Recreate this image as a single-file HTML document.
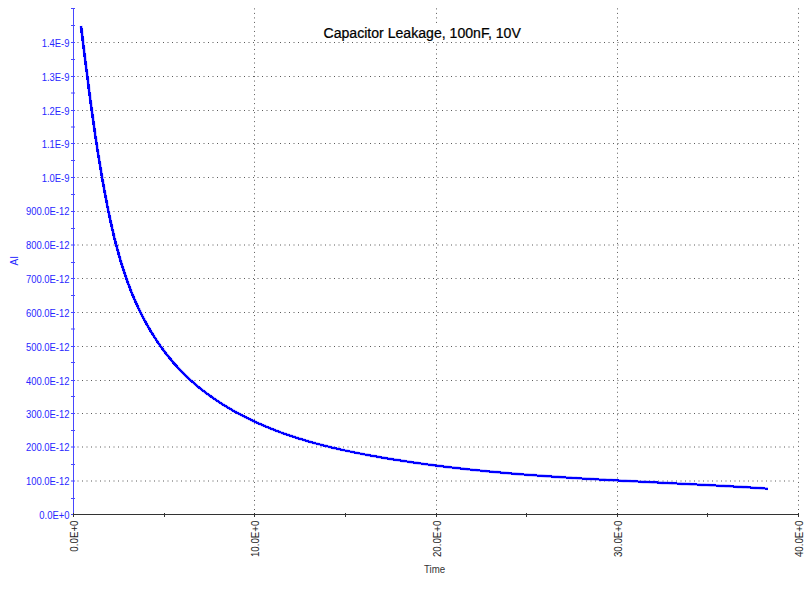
<!DOCTYPE html><html><head><meta charset="utf-8"><title>Capacitor Leakage, 100nF, 10V</title><style>html,body{margin:0;padding:0;background:#fff;width:810px;height:592px;overflow:hidden}svg{display:block}text{font-family:"Liberation Sans",sans-serif}</style></head><body>
<svg width="810" height="592" viewBox="0 0 810 592">
<rect width="810" height="592" fill="#fff"/>
<path d="M77.5 481.0H796 M77.5 447.0H796 M77.5 413.5H796 M77.5 380.5H796 M77.5 346.5H796 M77.5 312.5H796 M77.5 278.5H796 M77.5 245.0H796 M77.5 211.5H796 M77.5 177.5H796 M77.5 143.5H796 M77.5 110.5H796 M77.5 76.5H796 M77.5 42.5H796" stroke="#5a5a5a" stroke-width="1" stroke-dasharray="1 3.5" fill="none"/>
<path d="M254.5 510.0V8 M436.5 510.0V8 M617.5 510.0V8 M798.5 510.0V8" stroke="#5a5a5a" stroke-width="1" stroke-dasharray="1 3.51" fill="none"/>
<path d="M71 481.0H75 M71 447.0H75 M71 413.5H75 M71 380.5H75 M71 346.5H75 M71 312.5H75 M71 278.5H75 M71 245.0H75 M71 211.5H75 M71 177.5H75 M71 143.5H75 M71 110.5H75 M71 76.5H75 M71 42.5H75 M71 498.5H75 M71 464.5H75 M71 430.5H75 M71 396.5H75 M71 362.5H75 M71 329.0H75 M71 295.5H75 M71 262.5H75 M71 228.5H75 M71 194.5H75 M71 160.5H75 M71 127.0H75 M71 93.0H75 M71 59.5H75 M71 25.5H75 M71 8.5H75 M71 514.5H73" stroke="#4848ff" stroke-width="1"/>
<path d="M73.5 8V514" stroke="#4848ff" stroke-width="1" shape-rendering="crispEdges"/>
<path d="M73 514.5H799" stroke="#333333" stroke-width="1" shape-rendering="crispEdges"/>
<path d="M73.5 513V517 M164.5 513V517 M254.5 513V517 M345.5 513V517 M436.5 513V517 M526.5 513V517 M617.5 513V517 M707.5 513V517 M798.5 513V517" stroke="#333333" stroke-width="1" shape-rendering="crispEdges"/>
<text transform="translate(69.5 519.2) scale(0.9 1)" font-size="10.5" fill="#2828ff" text-anchor="end">0.0E+0</text>
<text transform="translate(69.5 485.2) scale(0.9 1)" font-size="10.5" fill="#2828ff" text-anchor="end">100.0E-12</text>
<text transform="translate(69.5 451.2) scale(0.9 1)" font-size="10.5" fill="#2828ff" text-anchor="end">200.0E-12</text>
<text transform="translate(69.5 418.2) scale(0.9 1)" font-size="10.5" fill="#2828ff" text-anchor="end">300.0E-12</text>
<text transform="translate(69.5 385.2) scale(0.9 1)" font-size="10.5" fill="#2828ff" text-anchor="end">400.0E-12</text>
<text transform="translate(69.5 351.2) scale(0.9 1)" font-size="10.5" fill="#2828ff" text-anchor="end">500.0E-12</text>
<text transform="translate(69.5 317.2) scale(0.9 1)" font-size="10.5" fill="#2828ff" text-anchor="end">600.0E-12</text>
<text transform="translate(69.5 283.2) scale(0.9 1)" font-size="10.5" fill="#2828ff" text-anchor="end">700.0E-12</text>
<text transform="translate(69.5 249.2) scale(0.9 1)" font-size="10.5" fill="#2828ff" text-anchor="end">800.0E-12</text>
<text transform="translate(69.5 215.2) scale(0.9 1)" font-size="10.5" fill="#2828ff" text-anchor="end">900.0E-12</text>
<text transform="translate(69.5 182.2) scale(0.9 1)" font-size="10.5" fill="#2828ff" text-anchor="end">1.0E-9</text>
<text transform="translate(69.5 148.2) scale(0.9 1)" font-size="10.5" fill="#2828ff" text-anchor="end">1.1E-9</text>
<text transform="translate(69.5 115.2) scale(0.9 1)" font-size="10.5" fill="#2828ff" text-anchor="end">1.2E-9</text>
<text transform="translate(69.5 81.2) scale(0.9 1)" font-size="10.5" fill="#2828ff" text-anchor="end">1.3E-9</text>
<text transform="translate(69.5 47.2) scale(0.9 1)" font-size="10.5" fill="#2828ff" text-anchor="end">1.4E-9</text>
<text transform="translate(77.5 520.5) rotate(-90) scale(0.93 1)" font-size="10.5" fill="#222" text-anchor="end">0.0E+0</text>
<text transform="translate(258.5 520.5) rotate(-90) scale(0.93 1)" font-size="10.5" fill="#222" text-anchor="end">10.0E+0</text>
<text transform="translate(440.5 520.5) rotate(-90) scale(0.93 1)" font-size="10.5" fill="#222" text-anchor="end">20.0E+0</text>
<text transform="translate(621.5 520.5) rotate(-90) scale(0.93 1)" font-size="10.5" fill="#222" text-anchor="end">30.0E+0</text>
<text transform="translate(802.5 520.5) rotate(-90) scale(0.93 1)" font-size="10.5" fill="#222" text-anchor="end">40.0E+0</text>
<text transform="translate(17.6 265.6) rotate(-90) scale(0.92 1)" font-size="11" fill="#2828ff">AI</text>
<text transform="translate(424 573) scale(0.88 1)" font-size="11" fill="#333">Time</text>
<rect x="322" y="24" width="201" height="17.5" fill="#fff"/>
<text transform="translate(323.5 38) scale(0.91 1)" font-size="15.5" fill="#000" stroke="#000" stroke-width="0.25">Capacitor Leakage, 100nF, 10V</text>
<path d="M80.7 25.9 L81.0 28.3 L81.3 30.8 L81.6 33.2 L81.9 35.7 L82.2 38.1 L82.5 40.6 L82.8 43.0 L83.1 45.4 L83.4 47.9 L83.7 50.3 L84.0 52.7 L84.3 55.2 L84.6 57.6 L84.9 60.0 L85.2 62.5 L85.5 64.9 L85.8 67.3 L86.1 69.7 L86.5 72.2 L86.8 74.6 L87.1 77.0 L87.4 79.4 L87.7 81.9 L88.0 84.3 L88.3 86.7 L88.6 89.1 L88.9 91.5 L89.3 94.0 L89.6 96.4 L89.9 98.8 L90.2 101.2 L90.5 103.6 L90.9 106.0 L91.2 108.4 L91.5 110.9 L91.9 113.3 L92.2 115.7 L92.5 118.1 L92.9 120.5 L93.2 122.9 L93.5 125.3 L93.9 127.7 L94.2 130.1 L94.6 132.5 L94.9 135.0 L95.3 137.4 L95.7 139.8 L96.0 142.2 L96.4 144.6 L96.8 147.0 L97.1 149.4 L97.5 151.8 L97.9 154.2 L98.3 156.6 L98.7 159.0 L99.1 161.4 L99.5 163.8 L99.9 166.2 L100.3 168.6 L100.7 171.1 L101.1 173.5 L101.5 175.9 L101.9 178.3 L102.3 180.7 L102.8 183.1 L103.2 185.5 L103.6 187.9 L104.1 190.3 L104.5 192.7 L105.0 195.1 L105.4 197.5 L105.9 199.9 L106.4 202.3 L106.8 204.8 L107.3 207.2 L107.8 209.6 L108.3 212.0 L108.8 214.4 L109.3 216.8 L109.8 219.2 L110.3 221.6 L110.9 224.0 L111.4 226.4 L111.9 228.8 L112.5 231.2 L113.1 233.6 L113.6 236.0 L114.2 238.4 L114.8 240.7 L115.4 243.1 L116.0 245.5 L116.7 247.9 L117.3 250.2 L118.0 252.6 L118.6 255.0 L119.3 257.3 L120.0 259.7 L120.7 262.0 L121.4 264.4 L122.1 266.7 L122.9 269.0 L123.6 271.4 L124.4 273.7 L125.2 276.0 L126.0 278.3 L126.8 280.6 L127.6 282.9 L128.5 285.2 L129.4 287.5 L130.2 289.7 L131.1 292.0 L132.0 294.3 L133.0 296.5 L133.9 298.8 L134.9 301.0 L135.9 303.2 L136.9 305.4 L137.9 307.6 L139.0 309.8 L140.0 312.0 L141.1 314.2 L142.2 316.4 L143.4 318.6 L144.5 320.7 L145.7 322.8 L146.8 325.0 L148.1 327.1 L149.3 329.2 L150.5 331.3 L151.8 333.4 L153.1 335.4 L154.4 337.5 L155.7 339.5 L157.1 341.6 L158.5 343.6 L159.8 345.6 L161.3 347.6 L162.7 349.5 L164.1 351.5 L165.6 353.4 L167.1 355.3 L168.6 357.2 L170.2 359.1 L171.7 361.0 L173.3 362.9 L174.9 364.7 L176.6 366.5 L178.2 368.3 L179.9 370.1 L181.6 371.8 L183.3 373.5 L185.0 375.3 L186.8 377.0 L188.5 378.6 L190.3 380.3 L192.2 381.9 L194.0 383.5 L195.9 385.1 L197.7 386.7 L199.6 388.2 L201.6 389.7 L203.5 391.2 L205.4 392.7 L207.4 394.2 L209.4 395.6 L211.4 397.0 L213.4 398.4 L215.4 399.8 L217.4 401.2 L219.5 402.5 L221.5 403.8 L223.6 405.1 L225.7 406.4 L227.8 407.6 L229.9 408.9 L232.0 410.1 L234.1 411.3 L236.2 412.5 L238.4 413.6 L240.5 414.8 L242.7 415.9 L244.8 417.0 L247.0 418.1 L249.2 419.1 L251.4 420.2 L253.5 421.2 L255.7 422.2 L258.0 423.2 L260.2 424.2 L262.4 425.2 L264.6 426.1 L266.9 427.1 L269.1 428.0 L271.4 428.9 L273.6 429.8 L275.9 430.7 L278.2 431.5 L280.5 432.4 L282.7 433.2 L285.0 434.0 L287.3 434.8 L289.6 435.6 L291.9 436.3 L294.3 437.1 L296.6 437.9 L298.9 438.6 L301.2 439.3 L303.6 440.0 L305.9 440.7 L308.3 441.4 L310.6 442.1 L313.0 442.7 L315.3 443.4 L317.7 444.0 L320.1 444.6 L322.4 445.2 L324.8 445.8 L327.2 446.4 L329.6 447.0 L332.0 447.6 L334.3 448.1 L336.7 448.7 L339.1 449.2 L341.5 449.8 L343.9 450.3 L346.3 450.8 L348.7 451.3 L351.1 451.8 L353.5 452.3 L356.0 452.8 L358.4 453.3 L360.8 453.7 L363.2 454.2 L365.6 454.7 L368.0 455.1 L370.5 455.6 L372.9 456.0 L375.3 456.4 L377.7 456.8 L380.1 457.3 L382.6 457.7 L385.0 458.1 L387.4 458.5 L389.8 458.9 L392.3 459.3 L394.7 459.7 L397.1 460.0 L399.5 460.4 L401.9 460.8 L404.4 461.2 L406.8 461.5 L409.2 461.9 L411.6 462.3 L414.1 462.6 L416.5 462.9 L418.9 463.3 L421.3 463.6 L423.8 464.0 L426.2 464.3 L428.6 464.6 L431.0 464.9 L433.5 465.3 L435.9 465.6 L438.3 465.9 L440.7 466.2 L443.2 466.5 L445.6 466.8 L448.0 467.1 L450.4 467.4 L452.9 467.6 L455.3 467.9 L457.7 468.2 L460.1 468.5 L462.6 468.7 L465.0 469.0 L467.4 469.3 L469.8 469.5 L472.3 469.8 L474.7 470.0 L477.1 470.3 L479.5 470.5 L482.0 470.8 L484.4 471.0 L486.8 471.3 L489.2 471.5 L491.7 471.7 L494.1 472.0 L496.5 472.2 L499.0 472.4 L501.4 472.6 L503.8 472.8 L506.2 473.0 L508.7 473.3 L511.1 473.5 L513.5 473.7 L516.0 473.9 L518.4 474.1 L520.8 474.3 L523.2 474.5 L525.7 474.6 L528.1 474.8 L530.5 475.0 L533.0 475.2 L535.4 475.4 L537.8 475.6 L540.3 475.7 L542.7 475.9 L545.1 476.1 L547.6 476.3 L550.0 476.4 L552.4 476.6 L554.9 476.8 L557.3 476.9 L559.7 477.1 L562.1 477.3 L564.6 477.4 L567.0 477.6 L569.4 477.7 L571.9 477.9 L574.3 478.0 L576.7 478.2 L579.2 478.3 L581.6 478.5 L584.1 478.6 L586.5 478.8 L588.9 478.9 L591.4 479.0 L593.8 479.2 L596.2 479.3 L598.7 479.5 L601.1 479.6 L603.5 479.7 L606.0 479.9 L608.4 480.0 L610.8 480.1 L613.3 480.3 L615.7 480.4 L618.2 480.5 L620.6 480.7 L623.0 480.8 L625.5 480.9 L627.9 481.0 L630.4 481.2 L632.8 481.3 L635.2 481.4 L637.7 481.5 L640.1 481.7 L642.6 481.8 L645.0 481.9 L647.4 482.0 L649.9 482.2 L652.3 482.3 L654.8 482.4 L657.2 482.5 L659.6 482.6 L662.1 482.8 L664.5 482.9 L667.0 483.0 L669.4 483.1 L671.9 483.3 L674.3 483.4 L676.7 483.5 L679.2 483.6 L681.6 483.8 L684.1 483.9 L686.5 484.0 L689.0 484.1 L691.4 484.3 L693.9 484.4 L696.3 484.5 L698.7 484.6 L701.2 484.8 L703.6 484.9 L706.1 485.0 L708.5 485.1 L711.0 485.3 L713.4 485.4 L715.9 485.5 L718.3 485.7 L720.8 485.8 L723.2 485.9 L725.7 486.1 L728.1 486.2 L730.6 486.4 L733.0 486.5 L735.5 486.6 L737.9 486.8 L740.4 486.9 L742.8 487.1 L745.3 487.2 L747.7 487.4 L750.2 487.5 L752.6 487.7 L755.1 487.8 L757.6 488.0 L760.0 488.1 L762.5 488.3 L764.9 488.5 L767.4 488.6" stroke="#0000ff" stroke-width="3.2" stroke-opacity="0.3" transform="translate(0.4 0)" fill="none" stroke-linejoin="round"/>
<path d="M80.7 25.9 L81.0 28.3 L81.3 30.8 L81.6 33.2 L81.9 35.7 L82.2 38.1 L82.5 40.6 L82.8 43.0 L83.1 45.4 L83.4 47.9 L83.7 50.3 L84.0 52.7 L84.3 55.2 L84.6 57.6 L84.9 60.0 L85.2 62.5 L85.5 64.9 L85.8 67.3 L86.1 69.7 L86.5 72.2 L86.8 74.6 L87.1 77.0 L87.4 79.4 L87.7 81.9 L88.0 84.3 L88.3 86.7 L88.6 89.1 L88.9 91.5 L89.3 94.0 L89.6 96.4 L89.9 98.8 L90.2 101.2 L90.5 103.6 L90.9 106.0 L91.2 108.4 L91.5 110.9 L91.9 113.3 L92.2 115.7 L92.5 118.1 L92.9 120.5 L93.2 122.9 L93.5 125.3 L93.9 127.7 L94.2 130.1 L94.6 132.5 L94.9 135.0 L95.3 137.4 L95.7 139.8 L96.0 142.2 L96.4 144.6 L96.8 147.0 L97.1 149.4 L97.5 151.8 L97.9 154.2 L98.3 156.6 L98.7 159.0 L99.1 161.4 L99.5 163.8 L99.9 166.2 L100.3 168.6 L100.7 171.1 L101.1 173.5 L101.5 175.9 L101.9 178.3 L102.3 180.7 L102.8 183.1 L103.2 185.5 L103.6 187.9 L104.1 190.3 L104.5 192.7 L105.0 195.1 L105.4 197.5 L105.9 199.9 L106.4 202.3 L106.8 204.8 L107.3 207.2 L107.8 209.6 L108.3 212.0 L108.8 214.4 L109.3 216.8 L109.8 219.2 L110.3 221.6 L110.9 224.0 L111.4 226.4 L111.9 228.8 L112.5 231.2 L113.1 233.6 L113.6 236.0 L114.2 238.4 L114.8 240.7 L115.4 243.1 L116.0 245.5 L116.7 247.9 L117.3 250.2 L118.0 252.6 L118.6 255.0 L119.3 257.3 L120.0 259.7 L120.7 262.0 L121.4 264.4 L122.1 266.7 L122.9 269.0 L123.6 271.4 L124.4 273.7 L125.2 276.0 L126.0 278.3 L126.8 280.6 L127.6 282.9 L128.5 285.2 L129.4 287.5 L130.2 289.7 L131.1 292.0 L132.0 294.3 L133.0 296.5 L133.9 298.8 L134.9 301.0 L135.9 303.2 L136.9 305.4 L137.9 307.6 L139.0 309.8 L140.0 312.0 L141.1 314.2 L142.2 316.4 L143.4 318.6 L144.5 320.7 L145.7 322.8 L146.8 325.0 L148.1 327.1 L149.3 329.2 L150.5 331.3 L151.8 333.4 L153.1 335.4 L154.4 337.5 L155.7 339.5 L157.1 341.6 L158.5 343.6 L159.8 345.6 L161.3 347.6 L162.7 349.5 L164.1 351.5 L165.6 353.4 L167.1 355.3 L168.6 357.2 L170.2 359.1 L171.7 361.0 L173.3 362.9 L174.9 364.7 L176.6 366.5 L178.2 368.3 L179.9 370.1 L181.6 371.8 L183.3 373.5 L185.0 375.3 L186.8 377.0 L188.5 378.6 L190.3 380.3 L192.2 381.9 L194.0 383.5 L195.9 385.1 L197.7 386.7 L199.6 388.2 L201.6 389.7 L203.5 391.2 L205.4 392.7 L207.4 394.2 L209.4 395.6 L211.4 397.0 L213.4 398.4 L215.4 399.8 L217.4 401.2 L219.5 402.5 L221.5 403.8 L223.6 405.1 L225.7 406.4 L227.8 407.6 L229.9 408.9 L232.0 410.1 L234.1 411.3 L236.2 412.5 L238.4 413.6 L240.5 414.8 L242.7 415.9 L244.8 417.0 L247.0 418.1 L249.2 419.1 L251.4 420.2 L253.5 421.2 L255.7 422.2 L258.0 423.2 L260.2 424.2 L262.4 425.2 L264.6 426.1 L266.9 427.1 L269.1 428.0 L271.4 428.9 L273.6 429.8 L275.9 430.7 L278.2 431.5 L280.5 432.4 L282.7 433.2 L285.0 434.0 L287.3 434.8 L289.6 435.6 L291.9 436.3 L294.3 437.1 L296.6 437.9 L298.9 438.6 L301.2 439.3 L303.6 440.0 L305.9 440.7 L308.3 441.4 L310.6 442.1 L313.0 442.7 L315.3 443.4 L317.7 444.0 L320.1 444.6 L322.4 445.2 L324.8 445.8 L327.2 446.4 L329.6 447.0 L332.0 447.6 L334.3 448.1 L336.7 448.7 L339.1 449.2 L341.5 449.8 L343.9 450.3 L346.3 450.8 L348.7 451.3 L351.1 451.8 L353.5 452.3 L356.0 452.8 L358.4 453.3 L360.8 453.7 L363.2 454.2 L365.6 454.7 L368.0 455.1 L370.5 455.6 L372.9 456.0 L375.3 456.4 L377.7 456.8 L380.1 457.3 L382.6 457.7 L385.0 458.1 L387.4 458.5 L389.8 458.9 L392.3 459.3 L394.7 459.7 L397.1 460.0 L399.5 460.4 L401.9 460.8 L404.4 461.2 L406.8 461.5 L409.2 461.9 L411.6 462.3 L414.1 462.6 L416.5 462.9 L418.9 463.3 L421.3 463.6 L423.8 464.0 L426.2 464.3 L428.6 464.6 L431.0 464.9 L433.5 465.3 L435.9 465.6 L438.3 465.9 L440.7 466.2 L443.2 466.5 L445.6 466.8 L448.0 467.1 L450.4 467.4 L452.9 467.6 L455.3 467.9 L457.7 468.2 L460.1 468.5 L462.6 468.7 L465.0 469.0 L467.4 469.3 L469.8 469.5 L472.3 469.8 L474.7 470.0 L477.1 470.3 L479.5 470.5 L482.0 470.8 L484.4 471.0 L486.8 471.3 L489.2 471.5 L491.7 471.7 L494.1 472.0 L496.5 472.2 L499.0 472.4 L501.4 472.6 L503.8 472.8 L506.2 473.0 L508.7 473.3 L511.1 473.5 L513.5 473.7 L516.0 473.9 L518.4 474.1 L520.8 474.3 L523.2 474.5 L525.7 474.6 L528.1 474.8 L530.5 475.0 L533.0 475.2 L535.4 475.4 L537.8 475.6 L540.3 475.7 L542.7 475.9 L545.1 476.1 L547.6 476.3 L550.0 476.4 L552.4 476.6 L554.9 476.8 L557.3 476.9 L559.7 477.1 L562.1 477.3 L564.6 477.4 L567.0 477.6 L569.4 477.7 L571.9 477.9 L574.3 478.0 L576.7 478.2 L579.2 478.3 L581.6 478.5 L584.1 478.6 L586.5 478.8 L588.9 478.9 L591.4 479.0 L593.8 479.2 L596.2 479.3 L598.7 479.5 L601.1 479.6 L603.5 479.7 L606.0 479.9 L608.4 480.0 L610.8 480.1 L613.3 480.3 L615.7 480.4 L618.2 480.5 L620.6 480.7 L623.0 480.8 L625.5 480.9 L627.9 481.0 L630.4 481.2 L632.8 481.3 L635.2 481.4 L637.7 481.5 L640.1 481.7 L642.6 481.8 L645.0 481.9 L647.4 482.0 L649.9 482.2 L652.3 482.3 L654.8 482.4 L657.2 482.5 L659.6 482.6 L662.1 482.8 L664.5 482.9 L667.0 483.0 L669.4 483.1 L671.9 483.3 L674.3 483.4 L676.7 483.5 L679.2 483.6 L681.6 483.8 L684.1 483.9 L686.5 484.0 L689.0 484.1 L691.4 484.3 L693.9 484.4 L696.3 484.5 L698.7 484.6 L701.2 484.8 L703.6 484.9 L706.1 485.0 L708.5 485.1 L711.0 485.3 L713.4 485.4 L715.9 485.5 L718.3 485.7 L720.8 485.8 L723.2 485.9 L725.7 486.1 L728.1 486.2 L730.6 486.4 L733.0 486.5 L735.5 486.6 L737.9 486.8 L740.4 486.9 L742.8 487.1 L745.3 487.2 L747.7 487.4 L750.2 487.5 L752.6 487.7 L755.1 487.8 L757.6 488.0 L760.0 488.1 L762.5 488.3 L764.9 488.5 L767.4 488.6" stroke="#0000ff" stroke-width="2" fill="none" stroke-linejoin="round" shape-rendering="crispEdges"/>
<path d="M80.7 25.9 L81.0 28.3 L81.3 30.8 L81.6 33.2 L81.9 35.7 L82.2 38.1 L82.5 40.6 L82.8 43.0 L83.1 45.4 L83.4 47.9 L83.7 50.3 L84.0 52.7 L84.3 55.2 L84.6 57.6 L84.9 60.0 L85.2 62.5 L85.5 64.9 L85.8 67.3 L86.1 69.7 L86.5 72.2 L86.8 74.6 L87.1 77.0 L87.4 79.4 L87.7 81.9 L88.0 84.3 L88.3 86.7 L88.6 89.1 L88.9 91.5 L89.3 94.0 L89.6 96.4 L89.9 98.8 L90.2 101.2 L90.5 103.6 L90.9 106.0 L91.2 108.4 L91.5 110.9 L91.9 113.3 L92.2 115.7 L92.5 118.1 L92.9 120.5 L93.2 122.9 L93.5 125.3 L93.9 127.7 L94.2 130.1 L94.6 132.5 L94.9 135.0 L95.3 137.4 L95.7 139.8 L96.0 142.2 L96.4 144.6 L96.8 147.0 L97.1 149.4 L97.5 151.8 L97.9 154.2 L98.3 156.6 L98.7 159.0 L99.1 161.4 L99.5 163.8 L99.9 166.2 L100.3 168.6 L100.7 171.1 L101.1 173.5 L101.5 175.9 L101.9 178.3 L102.3 180.7 L102.8 183.1 L103.2 185.5 L103.6 187.9 L104.1 190.3 L104.5 192.7 L105.0 195.1 L105.4 197.5 L105.9 199.9 L106.4 202.3 L106.8 204.8 L107.3 207.2 L107.8 209.6 L108.3 212.0 L108.8 214.4 L109.3 216.8 L109.8 219.2 L110.3 221.6 L110.9 224.0 L111.4 226.4 L111.9 228.8 L112.5 231.2 L113.1 233.6 L113.6 236.0 L114.2 238.4 L114.8 240.7 L115.4 243.1 L116.0 245.5 L116.7 247.9 L117.3 250.2 L118.0 252.6 L118.6 255.0 L119.3 257.3 L120.0 259.7 L120.7 262.0 L121.4 264.4 L122.1 266.7 L122.9 269.0 L123.6 271.4 L124.4 273.7 L125.2 276.0 L126.0 278.3 L126.8 280.6 L127.6 282.9 L128.5 285.2 L129.4 287.5 L130.2 289.7 L131.1 292.0 L132.0 294.3 L133.0 296.5 L133.9 298.8 L134.9 301.0 L135.9 303.2 L136.9 305.4 L137.9 307.6 L139.0 309.8 L140.0 312.0 L141.1 314.2 L142.2 316.4 L143.4 318.6 L144.5 320.7 L145.7 322.8 L146.8 325.0 L148.1 327.1 L149.3 329.2 L150.5 331.3 L151.8 333.4 L153.1 335.4 L154.4 337.5 L155.7 339.5 L157.1 341.6 L158.5 343.6 L159.8 345.6 L161.3 347.6 L162.7 349.5 L164.1 351.5 L165.6 353.4 L167.1 355.3 L168.6 357.2 L170.2 359.1 L171.7 361.0 L173.3 362.9 L174.9 364.7 L176.6 366.5 L178.2 368.3 L179.9 370.1 L181.6 371.8 L183.3 373.5 L185.0 375.3 L186.8 377.0 L188.5 378.6 L190.3 380.3 L192.2 381.9 L194.0 383.5 L195.9 385.1 L197.7 386.7 L199.6 388.2 L201.6 389.7 L203.5 391.2 L205.4 392.7 L207.4 394.2 L209.4 395.6 L211.4 397.0 L213.4 398.4 L215.4 399.8 L217.4 401.2 L219.5 402.5 L221.5 403.8 L223.6 405.1 L225.7 406.4 L227.8 407.6 L229.9 408.9 L232.0 410.1 L234.1 411.3 L236.2 412.5 L238.4 413.6 L240.5 414.8 L242.7 415.9 L244.8 417.0 L247.0 418.1 L249.2 419.1 L251.4 420.2 L253.5 421.2 L255.7 422.2 L258.0 423.2 L260.2 424.2 L262.4 425.2 L264.6 426.1 L266.9 427.1 L269.1 428.0 L271.4 428.9 L273.6 429.8 L275.9 430.7 L278.2 431.5 L280.5 432.4 L282.7 433.2 L285.0 434.0 L287.3 434.8 L289.6 435.6 L291.9 436.3 L294.3 437.1 L296.6 437.9 L298.9 438.6 L301.2 439.3 L303.6 440.0 L305.9 440.7 L308.3 441.4 L310.6 442.1 L313.0 442.7 L315.3 443.4 L317.7 444.0 L320.1 444.6 L322.4 445.2 L324.8 445.8 L327.2 446.4 L329.6 447.0 L332.0 447.6 L334.3 448.1 L336.7 448.7 L339.1 449.2 L341.5 449.8 L343.9 450.3 L346.3 450.8 L348.7 451.3 L351.1 451.8 L353.5 452.3 L356.0 452.8 L358.4 453.3 L360.8 453.7 L363.2 454.2 L365.6 454.7 L368.0 455.1 L370.5 455.6 L372.9 456.0 L375.3 456.4 L377.7 456.8 L380.1 457.3 L382.6 457.7 L385.0 458.1 L387.4 458.5 L389.8 458.9 L392.3 459.3 L394.7 459.7 L397.1 460.0 L399.5 460.4 L401.9 460.8 L404.4 461.2 L406.8 461.5 L409.2 461.9 L411.6 462.3 L414.1 462.6 L416.5 462.9 L418.9 463.3 L421.3 463.6 L423.8 464.0 L426.2 464.3 L428.6 464.6 L431.0 464.9 L433.5 465.3 L435.9 465.6 L438.3 465.9 L440.7 466.2 L443.2 466.5 L445.6 466.8 L448.0 467.1 L450.4 467.4 L452.9 467.6 L455.3 467.9 L457.7 468.2 L460.1 468.5 L462.6 468.7 L465.0 469.0 L467.4 469.3 L469.8 469.5 L472.3 469.8 L474.7 470.0 L477.1 470.3 L479.5 470.5 L482.0 470.8 L484.4 471.0 L486.8 471.3 L489.2 471.5 L491.7 471.7 L494.1 472.0 L496.5 472.2 L499.0 472.4 L501.4 472.6 L503.8 472.8 L506.2 473.0 L508.7 473.3 L511.1 473.5 L513.5 473.7 L516.0 473.9 L518.4 474.1 L520.8 474.3 L523.2 474.5 L525.7 474.6 L528.1 474.8 L530.5 475.0 L533.0 475.2 L535.4 475.4 L537.8 475.6 L540.3 475.7 L542.7 475.9 L545.1 476.1 L547.6 476.3 L550.0 476.4 L552.4 476.6 L554.9 476.8 L557.3 476.9 L559.7 477.1 L562.1 477.3 L564.6 477.4 L567.0 477.6 L569.4 477.7 L571.9 477.9 L574.3 478.0 L576.7 478.2 L579.2 478.3 L581.6 478.5 L584.1 478.6 L586.5 478.8 L588.9 478.9 L591.4 479.0 L593.8 479.2 L596.2 479.3 L598.7 479.5 L601.1 479.6 L603.5 479.7 L606.0 479.9 L608.4 480.0 L610.8 480.1 L613.3 480.3 L615.7 480.4 L618.2 480.5 L620.6 480.7 L623.0 480.8 L625.5 480.9 L627.9 481.0 L630.4 481.2 L632.8 481.3 L635.2 481.4 L637.7 481.5 L640.1 481.7 L642.6 481.8 L645.0 481.9 L647.4 482.0 L649.9 482.2 L652.3 482.3 L654.8 482.4 L657.2 482.5 L659.6 482.6 L662.1 482.8 L664.5 482.9 L667.0 483.0 L669.4 483.1 L671.9 483.3 L674.3 483.4 L676.7 483.5 L679.2 483.6 L681.6 483.8 L684.1 483.9 L686.5 484.0 L689.0 484.1 L691.4 484.3 L693.9 484.4 L696.3 484.5 L698.7 484.6 L701.2 484.8 L703.6 484.9 L706.1 485.0 L708.5 485.1 L711.0 485.3 L713.4 485.4 L715.9 485.5 L718.3 485.7 L720.8 485.8 L723.2 485.9 L725.7 486.1 L728.1 486.2 L730.6 486.4 L733.0 486.5 L735.5 486.6 L737.9 486.8 L740.4 486.9 L742.8 487.1 L745.3 487.2 L747.7 487.4 L750.2 487.5 L752.6 487.7 L755.1 487.8 L757.6 488.0 L760.0 488.1 L762.5 488.3 L764.9 488.5 L767.4 488.6" transform="translate(0.5 0)" stroke="#0000ff" stroke-width="2" fill="none" stroke-linejoin="round" shape-rendering="crispEdges"/>
</svg></body></html>
